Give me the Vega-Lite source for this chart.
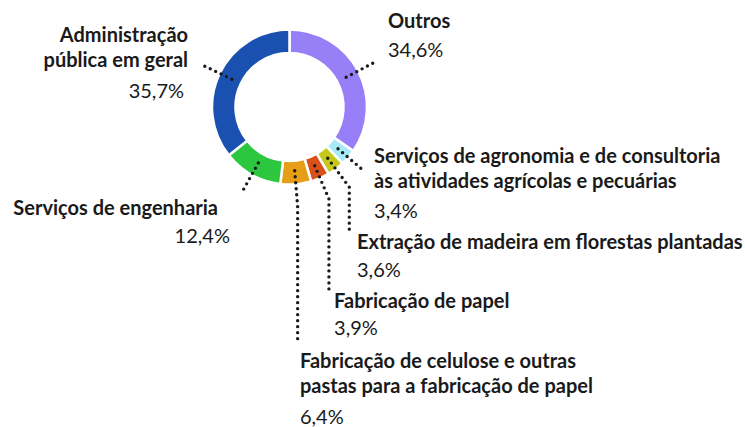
{
  "$schema": "https://vega.github.io/schema/vega-lite/v6.json",
  "width": 579,
  "height": 214,
  "padding": 0,
  "autosize": {"type": "pad"},
  "background": "#ffffff",
  "config": {
    "view": {"stroke": null},
    "text": {"font": "Lato", "fontSize": 20, "fill": "#1a1a1a", "baseline": "alphabetic", "lineBreak": "\n", "lineHeight": 25.5},
    "rule": {"stroke": "#1a1a1a", "strokeWidth": 3.4, "strokeCap": "round", "strokeDash": [0, 6]}
  },
  "data": {
    "values": [
      {"ordem": 1, "categoria": "Outros", "rotulo": "Outros", "valor": 34.6},
      {"ordem": 2, "categoria": "Serviços de agronomia e de consultoria às atividades agrícolas e pecuárias", "rotulo": "Serviços de agronomia e de consultoria\nàs atividades agrícolas e pecuárias", "valor": 3.4},
      {"ordem": 3, "categoria": "Extração de madeira em florestas plantadas", "rotulo": "Extração de madeira em florestas plantadas", "valor": 3.6},
      {"ordem": 4, "categoria": "Fabricação de papel", "rotulo": "Fabricação de papel", "valor": 3.9},
      {"ordem": 5, "categoria": "Fabricação de celulose e outras pastas para a fabricação de papel", "rotulo": "Fabricação de celulose e outras\npastas para a fabricação de papel", "valor": 6.4},
      {"ordem": 6, "categoria": "Serviços de engenharia", "rotulo": "Serviços de engenharia", "valor": 12.4},
      {"ordem": 7, "categoria": "Administração pública em geral", "rotulo": "Administração\npública em geral", "valor": 35.7}
    ]
  },
  "transform": [
    {"window": [{"op": "sum", "field": "valor", "as": "acumulado"}], "sort": [{"field": "ordem", "order": "ascending"}], "frame": [null, 0]},
    {"joinaggregate": [{"op": "sum", "field": "valor", "as": "total"}]},
    {"calculate": "2 * PI * (datum.acumulado - datum.valor / 2) / datum.total", "as": "angulo"},
    {"calculate": "replace(format(datum.valor, '.1f'), '.', ',') + '%'", "as": "percentual"},
    {"calculate": "64 * sin(datum.angulo)", "as": "xa"},
    {"calculate": "-64 * cos(datum.angulo)", "as": "ya"},
    {"calculate": "100 * sin(datum.angulo)", "as": "xb"},
    {"calculate": "-100 * cos(datum.angulo)", "as": "yb"}
  ],
  "layer": [
    {
      "mark": {"type": "arc", "innerRadius": 54, "outerRadius": 77.5, "stroke": "#ffffff", "strokeWidth": 2.5},
      "encoding": {
        "theta": {"field": "valor", "type": "quantitative", "stack": true},
        "order": {"field": "ordem", "type": "quantitative"},
        "color": {
          "field": "categoria", "type": "nominal", "legend": null,
          "scale": {
            "domain": ["Outros", "Serviços de agronomia e de consultoria às atividades agrícolas e pecuárias", "Extração de madeira em florestas plantadas", "Fabricação de papel", "Fabricação de celulose e outras pastas para a fabricação de papel", "Serviços de engenharia", "Administração pública em geral"],
            "range": ["#977ff7", "#a6e9f7", "#c5c91b", "#d9501a", "#e59e15", "#2dc63f", "#1a50b0"]
          }
        }
      }
    },
    {
      "mark": {"type": "rule", "xOffset": {"expr": "width/2"}, "x2Offset": {"expr": "width/2"}, "yOffset": {"expr": "height/2"}, "y2Offset": {"expr": "height/2"}},
      "encoding": {
        "x": {"field": "xa", "type": "quantitative", "scale": null, "axis": null},
        "y": {"field": "ya", "type": "quantitative", "scale": null, "axis": null},
        "x2": {"field": "xb"},
        "y2": {"field": "yb"}
      }
    },
    {
      "transform": [{"filter": {"field": "ordem", "equal": 3}}],
      "mark": {"type": "rule", "xOffset": {"expr": "width/2"}, "yOffset": {"expr": "height/2"}, "y2Offset": {"expr": "height/2 + 45"}},
      "encoding": {
        "x": {"field": "xb", "type": "quantitative", "scale": null, "axis": null},
        "y": {"field": "yb", "type": "quantitative", "scale": null, "axis": null},
        "y2": {"field": "yb"}
      }
    },
    {
      "transform": [{"filter": {"field": "ordem", "equal": 4}}],
      "mark": {"type": "rule", "xOffset": {"expr": "width/2"}, "yOffset": {"expr": "height/2"}, "y2Offset": {"expr": "height/2 + 91"}},
      "encoding": {
        "x": {"field": "xb", "type": "quantitative", "scale": null, "axis": null},
        "y": {"field": "yb", "type": "quantitative", "scale": null, "axis": null},
        "y2": {"field": "yb"}
      }
    },
    {
      "transform": [{"filter": {"field": "ordem", "equal": 5}}],
      "mark": {"type": "rule", "xOffset": {"expr": "width/2"}, "yOffset": {"expr": "height/2"}, "y2Offset": {"expr": "height/2 + 136"}},
      "encoding": {
        "x": {"field": "xb", "type": "quantitative", "scale": null, "axis": null},
        "y": {"field": "yb", "type": "quantitative", "scale": null, "axis": null},
        "y2": {"field": "yb"}
      }
    },
    {
      "transform": [{"filter": {"field": "ordem", "equal": 1}}],
      "mark": {"type": "text", "align": "left", "fontWeight": "bold", "dx": 10, "dy": -32.5, "xOffset": {"expr": "width/2"}, "yOffset": {"expr": "height/2"}},
      "encoding": {"x": {"field": "xb", "type": "quantitative", "scale": null, "axis": null}, "y": {"field": "yb", "type": "quantitative", "scale": null, "axis": null}, "text": {"field": "rotulo"}}
    },
    {
      "transform": [{"filter": {"field": "ordem", "equal": 1}}],
      "mark": {"type": "text", "align": "left", "dx": 10, "dy": -3.5, "xOffset": {"expr": "width/2"}, "yOffset": {"expr": "height/2"}},
      "encoding": {"x": {"field": "xb", "type": "quantitative", "scale": null, "axis": null}, "y": {"field": "yb", "type": "quantitative", "scale": null, "axis": null}, "text": {"field": "percentual"}}
    },
    {
      "transform": [{"filter": {"field": "ordem", "equal": 2}}],
      "mark": {"type": "text", "align": "left", "fontWeight": "bold", "dx": 8.7, "dy": -9.2, "xOffset": {"expr": "width/2"}, "yOffset": {"expr": "height/2"}},
      "encoding": {"x": {"field": "xb", "type": "quantitative", "scale": null, "axis": null}, "y": {"field": "yb", "type": "quantitative", "scale": null, "axis": null}, "text": {"field": "rotulo"}}
    },
    {
      "transform": [{"filter": {"field": "ordem", "equal": 2}}],
      "mark": {"type": "text", "align": "left", "dx": 8.7, "dy": 45.8, "xOffset": {"expr": "width/2"}, "yOffset": {"expr": "height/2"}},
      "encoding": {"x": {"field": "xb", "type": "quantitative", "scale": null, "axis": null}, "y": {"field": "yb", "type": "quantitative", "scale": null, "axis": null}, "text": {"field": "percentual"}}
    },
    {
      "transform": [{"filter": {"field": "ordem", "equal": 3}}],
      "mark": {"type": "text", "align": "left", "fontWeight": "bold", "dx": 7.7, "dy": 61.8, "xOffset": {"expr": "width/2"}, "yOffset": {"expr": "height/2"}},
      "encoding": {"x": {"field": "xb", "type": "quantitative", "scale": null, "axis": null}, "y": {"field": "yb", "type": "quantitative", "scale": null, "axis": null}, "text": {"field": "rotulo"}}
    },
    {
      "transform": [{"filter": {"field": "ordem", "equal": 3}}],
      "mark": {"type": "text", "align": "left", "dx": 7.7, "dy": 89.8, "xOffset": {"expr": "width/2"}, "yOffset": {"expr": "height/2"}},
      "encoding": {"x": {"field": "xb", "type": "quantitative", "scale": null, "axis": null}, "y": {"field": "yb", "type": "quantitative", "scale": null, "axis": null}, "text": {"field": "percentual"}}
    },
    {
      "transform": [{"filter": {"field": "ordem", "equal": 4}}],
      "mark": {"type": "text", "align": "left", "fontWeight": "bold", "dx": 5.1, "dy": 109.1, "xOffset": {"expr": "width/2"}, "yOffset": {"expr": "height/2"}},
      "encoding": {"x": {"field": "xb", "type": "quantitative", "scale": null, "axis": null}, "y": {"field": "yb", "type": "quantitative", "scale": null, "axis": null}, "text": {"field": "rotulo"}}
    },
    {
      "transform": [{"filter": {"field": "ordem", "equal": 4}}],
      "mark": {"type": "text", "align": "left", "dx": 5.1, "dy": 136.1, "xOffset": {"expr": "width/2"}, "yOffset": {"expr": "height/2"}},
      "encoding": {"x": {"field": "xb", "type": "quantitative", "scale": null, "axis": null}, "y": {"field": "yb", "type": "quantitative", "scale": null, "axis": null}, "text": {"field": "percentual"}}
    },
    {
      "transform": [{"filter": {"field": "ordem", "equal": 5}}],
      "mark": {"type": "text", "align": "left", "fontWeight": "bold", "dx": 2.3, "dy": 161.3, "xOffset": {"expr": "width/2"}, "yOffset": {"expr": "height/2"}},
      "encoding": {"x": {"field": "xb", "type": "quantitative", "scale": null, "axis": null}, "y": {"field": "yb", "type": "quantitative", "scale": null, "axis": null}, "text": {"field": "rotulo"}}
    },
    {
      "transform": [{"filter": {"field": "ordem", "equal": 5}}],
      "mark": {"type": "text", "align": "left", "dx": 2.3, "dy": 217.3, "xOffset": {"expr": "width/2"}, "yOffset": {"expr": "height/2"}},
      "encoding": {"x": {"field": "xb", "type": "quantitative", "scale": null, "axis": null}, "y": {"field": "yb", "type": "quantitative", "scale": null, "axis": null}, "text": {"field": "percentual"}}
    },
    {
      "transform": [{"filter": {"field": "ordem", "equal": 6}}],
      "mark": {"type": "text", "align": "right", "fontWeight": "bold", "dx": -22.8, "dy": 20.7, "xOffset": {"expr": "width/2"}, "yOffset": {"expr": "height/2"}},
      "encoding": {"x": {"field": "xb", "type": "quantitative", "scale": null, "axis": null}, "y": {"field": "yb", "type": "quantitative", "scale": null, "axis": null}, "text": {"field": "rotulo"}}
    },
    {
      "transform": [{"filter": {"field": "ordem", "equal": 6}}],
      "mark": {"type": "text", "align": "right", "dx": -10.8, "dy": 48.7, "xOffset": {"expr": "width/2"}, "yOffset": {"expr": "height/2"}},
      "encoding": {"x": {"field": "xb", "type": "quantitative", "scale": null, "axis": null}, "y": {"field": "yb", "type": "quantitative", "scale": null, "axis": null}, "text": {"field": "percentual"}}
    },
    {
      "transform": [{"filter": {"field": "ordem", "equal": 7}}],
      "mark": {"type": "text", "align": "right", "fontWeight": "bold", "dx": -11.4, "dy": -21.6, "xOffset": {"expr": "width/2"}, "yOffset": {"expr": "height/2"}},
      "encoding": {"x": {"field": "xb", "type": "quantitative", "scale": null, "axis": null}, "y": {"field": "yb", "type": "quantitative", "scale": null, "axis": null}, "text": {"field": "rotulo"}}
    },
    {
      "transform": [{"filter": {"field": "ordem", "equal": 7}}],
      "mark": {"type": "text", "align": "right", "dx": -15.4, "dy": 34.4, "xOffset": {"expr": "width/2"}, "yOffset": {"expr": "height/2"}},
      "encoding": {"x": {"field": "xb", "type": "quantitative", "scale": null, "axis": null}, "y": {"field": "yb", "type": "quantitative", "scale": null, "axis": null}, "text": {"field": "percentual"}}
    }
  ]
}
